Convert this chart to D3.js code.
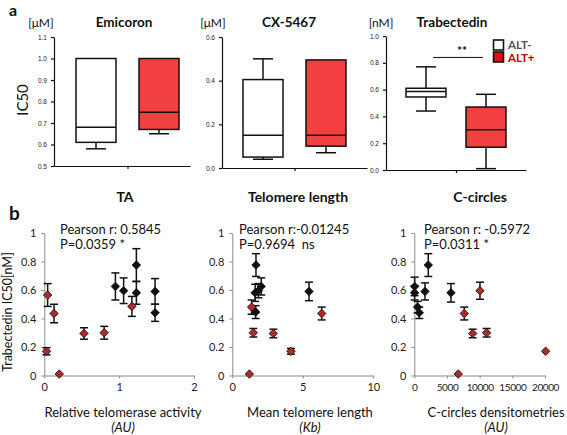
<!DOCTYPE html>
<html>
<head>
<meta charset="utf-8">
<title>IC50 vs telomere features</title>
<script src="https://d3js.org/d3.v7.min.js"></script>
<style>
  body { margin: 0; background: #fff; }
  svg { display: block; }
</style>
</head>
<body>
<svg width="567" height="435"></svg>
<script>
// ---- panel a : box plots, [min, q1, median, q3, max] per group ----
const groups = ["ALT-", "ALT+"];
const drugs = ["Emicoron", "CX-5467", "Trabectedin"];
const units = ["[\u03bcM]", "[\u03bcM]", "[nM]"];
const features = ["TA", "Telomere length", "C-circles"];
const emicoronBox = [[0.58, 0.61, 0.68, 1.0, 1.0], [0.65, 0.67, 0.75, 1.0, 1.0]];
const cx5467Box = [[0.04, 0.05, 0.15, 0.405, 0.5], [0.07, 0.10, 0.15, 0.495, 0.495]];
const trabectedinBox = [[0.44, 0.545, 0.585, 0.61, 0.77], [0.01, 0.17, 0.30, 0.47, 0.565]];
const boxYDomains = [[0.5, 1.1], [0, 0.6], [0, 1]];
const boxYTicks = [[0.5, 0.6, 0.7, 0.8, 0.9, 1.0, 1.1], [0, 0.2, 0.4, 0.6], [0, 0.2, 0.4, 0.6, 0.8, 1.0]];

// ---- panel b : scatter, [x, IC50, error] ----
const taAltNeg = [[0.95, 0.625, 0.095], [1.06, 0.595, 0.09], [1.23, 0.775, 0.115], [1.23, 0.58, 0.08], [1.48, 0.59, 0.09], [1.48, 0.44, 0.06]];
const taAltPos = [[0.045, 0.565, 0.08], [0.13, 0.435, 0.065], [0.03, 0.17, 0.025], [0.2, 0.01, 0], [0.53, 0.295, 0.04], [0.8, 0.30, 0.045], [1.17, 0.485, 0.07]];
const tlAltNeg = [[1.68, 0.775, 0.08], [1.62, 0.58, 0.06], [1.85, 0.595, 0.05], [2.05, 0.625, 0.06], [5.44, 0.59, 0.065], [1.66, 0.445, 0.045]];
const tlAltPos = [[1.37, 0.48, 0.05], [1.49, 0.30, 0.03], [2.91, 0.295, 0.03], [4.16, 0.17, 0.02], [6.34, 0.435, 0.045], [1.21, 0.01, 0]];
const ccAltNeg = [[50, 0.625, 0.065], [50, 0.58, 0.05], [500, 0.48, 0.04], [760, 0.44, 0.04], [2140, 0.775, 0.08], [1640, 0.59, 0.06], [5610, 0.58, 0.065]];
const ccAltPos = [[7650, 0.435, 0.045], [10050, 0.595, 0.06], [8930, 0.295, 0.03], [11070, 0.30, 0.03], [6730, 0.01, 0], [20100, 0.17, 0]];
const scatterXDomains = [[0, 2], [0, 10], [0, 20000]];
const scatterXTicks = [[0, 1, 2], [0, 5, 10], [0, 5000, 10000, 15000, 20000]];
const scatterYTicks = [0, 0.2, 0.4, 0.6, 0.8, 1];
const pearsonR = ["Pearson r: 0.5845", "Pearson r:-0.01245", "Pearson r: -0.5972"];
const pValues = ["P=0.0359 *", "P=0.9694  ns", "P=0.0311 *"];
const xTitles = ["Relative telomerase activity", "Mean telomere length", "C-circles densitometries"];
const xUnits = ["(AU)", "(Kb)", "(AU)"];

const boxData = [emicoronBox, cx5467Box, trabectedinBox];
const scatterData = [[taAltNeg, taAltPos], [tlAltNeg, tlAltPos], [ccAltNeg, ccAltPos]];

const svg = d3.select("svg");
const font = "Lato, 'Open Sans', sans-serif";
const boxFill = ["#ffffff", "#f23f3f"];
const dotFill = ["#111111", "#b02a2a"];

// layout of the panels
const topFrames = [
  { l: 54, r: 190, t: 37, b: 166, pl: 42, pr: 31, unitX: 41, titleX: 124 },
  { l: 222, r: 367, t: 37, b: 168, pl: 41, pr: 41, unitX: 213, titleX: 289 },
  { l: 386, r: 526, t: 36, b: 170, pl: 40, pr: 40, unitX: 381, titleX: 452 }
];
const featureX = [125, 298, 480];
const botFrames = [
  { l: 44.3, r: 194, t: 233, b: 375.5, noteX: 60, titleX: 123, tickFs: 11, tickLs: 0 },
  { l: 232.3, r: 373.3, t: 233, b: 375.5, noteX: 239, titleX: 310, tickFs: 11, tickLs: 0 },
  { l: 414.3, r: 545, t: 233, b: 375.5, noteX: 424, titleX: 496, tickFs: 10, tickLs: -0.4 }
];

// ---------- panel letters ----------
svg.append("text").attr("x", 9).attr("y", 16).text("a")
  .style("font", "bold 16px " + font).attr("fill", "#111");
svg.append("text").attr("x", 9).attr("y", 220).text("b")
  .style("font", "bold 19px " + font).attr("fill", "#111");

// ---------- box plots ----------
topFrames.forEach((f, i) => {
  const g = svg.append("g");
  const y = d3.scaleLinear().domain(boxYDomains[i]).range([f.b, f.t]);
  const x = d3.scalePoint().domain(groups).range([f.l + f.pl, f.r - f.pr]);
  const mid = (x(groups[0]) + x(groups[1])) / 2;

  const ya = g.append("g").attr("transform", `translate(${f.l},0)`)
    .call(d3.axisLeft(y).tickValues(boxYTicks[i]).tickFormat(d3.format(".1f")).tickSize(3).tickSizeOuter(0));
  ya.selectAll("text").style("font", "6.5px 'Liberation Sans', Arial, sans-serif").attr("fill", "#222").attr("dx", "-1");
  ya.selectAll("path, line").attr("stroke", "#111").attr("stroke-width", 1.2);

  const xs = d3.scaleLinear().domain([f.l, f.r]).range([f.l, f.r]);
  const xa = g.append("g").attr("transform", `translate(0,${f.b})`)
    .call(d3.axisBottom(xs).tickValues([mid]).tickFormat("").tickSize(3).tickSizeOuter(0));
  xa.selectAll("path, line").attr("stroke", "#111").attr("stroke-width", 1.2);

  const bw = 40, cw = 20;
  boxData[i].forEach((s, gi) => {
    const cx = x(groups[gi]);
    const [mn, q1, md, q3, mx] = s;
    const bg = g.append("g").attr("stroke", "#111").attr("stroke-width", 1.5);
    if (mn < q1) {
      bg.append("line").attr("x1", cx).attr("x2", cx).attr("y1", y(q1)).attr("y2", y(mn));
      bg.append("line").attr("x1", cx - cw / 2).attr("x2", cx + cw / 2).attr("y1", y(mn)).attr("y2", y(mn));
    }
    if (mx > q3) {
      bg.append("line").attr("x1", cx).attr("x2", cx).attr("y1", y(q3)).attr("y2", y(mx));
      bg.append("line").attr("x1", cx - cw / 2).attr("x2", cx + cw / 2).attr("y1", y(mx)).attr("y2", y(mx));
    }
    bg.append("rect").attr("x", cx - bw / 2).attr("width", bw)
      .attr("y", y(q3)).attr("height", y(q1) - y(q3)).attr("fill", boxFill[gi]);
    bg.append("line").attr("x1", cx - bw / 2).attr("x2", cx + bw / 2).attr("y1", y(md)).attr("y2", y(md));
  });

  g.append("text").attr("x", f.titleX).attr("y", 27).attr("text-anchor", "middle")
    .text(drugs[i]).style("font", "bold 13.5px " + font).attr("fill", "#111");
  g.append("text").attr("x", f.unitX).attr("y", 27).attr("text-anchor", "middle")
    .text(units[i]).style("font", "12px " + font).attr("fill", "#111");
  g.append("text").attr("x", featureX[i]).attr("y", 202).attr("text-anchor", "middle")
    .text(features[i]).style("font", "bold 14px " + font).attr("fill", "#111");

  if (i === 2) {
    // significance bar
    g.append("line").attr("x1", 433).attr("x2", 483).attr("y1", y(0.84)).attr("y2", y(0.84))
      .attr("stroke", "#111").attr("stroke-width", 1);
    g.append("text").attr("x", 462).attr("y", y(0.84) - 2).attr("text-anchor", "middle")
      .text("**").style("font", "bold 12px " + font).attr("fill", "#111");
  }
});

// IC50 label
svg.append("text").attr("transform", "translate(28,100) rotate(-90)").attr("text-anchor", "middle")
  .text("IC50").style("font", "15px " + font).attr("fill", "#111");

// legend
const legColors = ["#555555", "#c00000"];
groups.forEach((gname, gi) => {
  svg.append("rect").attr("x", 493.5).attr("y", 40 + gi * 12).attr("width", 10).attr("height", 10)
    .attr("fill", gi === 0 ? "#fff" : "#e01010").attr("stroke", "#111").attr("stroke-width", 1.6);
  svg.append("text").attr("x", 508).attr("y", 49 + gi * 13).text(gname)
    .style("font", "bold 11.5px " + font).attr("fill", legColors[gi]);
});

// ---------- scatter plots ----------
botFrames.forEach((f, i) => {
  const g = svg.append("g");
  const x = d3.scaleLinear().domain(scatterXDomains[i]).range([f.l, f.r]);
  const y = d3.scaleLinear().domain([0, 1]).range([f.b, f.t]);

  const ya = g.append("g").attr("transform", `translate(${f.l},0)`)
    .call(d3.axisLeft(y).tickValues(scatterYTicks).tickFormat(d => String(d)).tickSize(3).tickPadding(5).tickSizeOuter(0));
  ya.selectAll("path, line").attr("stroke", "#8a8a8a");
  ya.selectAll("text").style("font", "11px " + font).attr("fill", "#222");

  const xa = g.append("g").attr("transform", `translate(0,${f.b})`)
    .call(d3.axisBottom(x).tickValues(scatterXTicks[i]).tickFormat(d => String(d)).tickSize(3).tickPadding(5).tickSizeOuter(0));
  xa.selectAll("path, line").attr("stroke", "#8a8a8a");
  xa.selectAll("text").style("font", f.tickFs + "px " + font).style("letter-spacing", f.tickLs + "px").attr("fill", "#222");

  const cap = 4;
  scatterData[i].forEach((pts, gi) => {
    const eg = g.append("g").attr("stroke", "#111").attr("stroke-width", 1.5);
    pts.filter(d => d[2] > 0).forEach(d => {
      const cx = x(d[0]);
      eg.append("line").attr("x1", cx).attr("x2", cx).attr("y1", y(d[1] - d[2])).attr("y2", y(d[1] + d[2]));
      eg.append("line").attr("x1", cx - cap).attr("x2", cx + cap).attr("y1", y(d[1] - d[2])).attr("y2", y(d[1] - d[2]));
      eg.append("line").attr("x1", cx - cap).attr("x2", cx + cap).attr("y1", y(d[1] + d[2])).attr("y2", y(d[1] + d[2]));
    });
    g.append("g").selectAll("path").data(pts).join("path")
      .attr("d", d3.symbol(d3.symbolSquare, 36))
      .attr("transform", d => `translate(${x(d[0])},${y(d[1])}) rotate(45)`)
      .attr("fill", dotFill[gi]).attr("stroke", "#111").attr("stroke-width", 0.8);
  });

  g.append("text").attr("x", f.noteX).attr("y", 234).text(pearsonR[i])
    .style("font", "13px " + font).attr("fill", "#111").style("white-space", "pre");
  g.append("text").attr("x", f.noteX).attr("y", 249).text(pValues[i])
    .style("font", "13px " + font).attr("fill", "#111").style("white-space", "pre");
  g.append("text").attr("x", f.titleX).attr("y", 417).attr("text-anchor", "middle").text(xTitles[i])
    .style("font", "13px " + font).attr("fill", "#111");
  g.append("text").attr("x", f.titleX).attr("y", 432).attr("text-anchor", "middle").text(xUnits[i])
    .style("font", "italic 13px " + font).attr("fill", "#111");
});

svg.append("text").attr("transform", "translate(12,312) rotate(-90)").attr("text-anchor", "middle")
  .text("Trabectedin IC50[nM]").style("font", "12.5px " + font).attr("fill", "#111");
</script>
</body>
</html>
